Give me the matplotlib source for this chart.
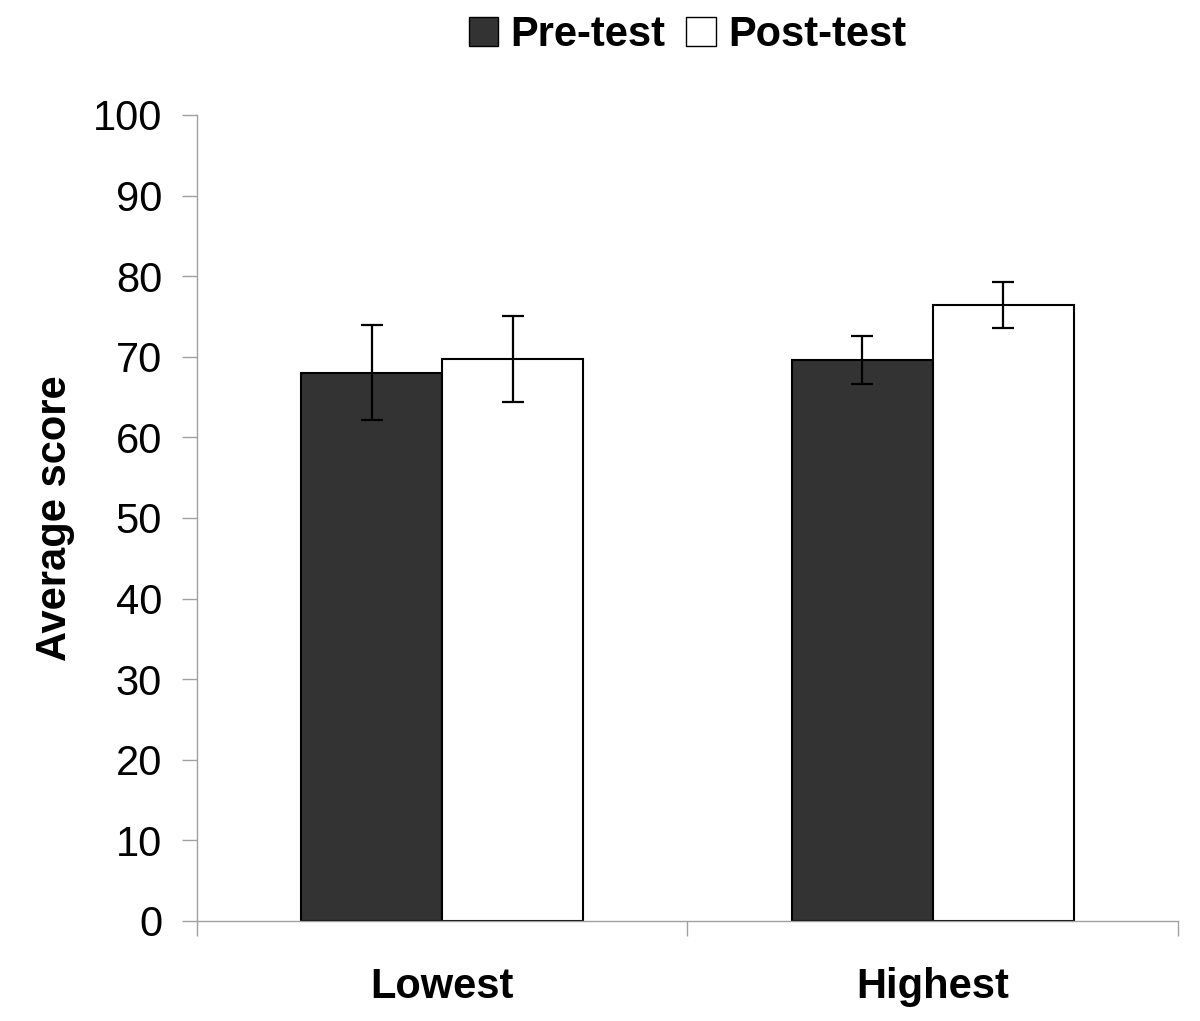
import numpy as np
import matplotlib.pyplot as plt
from matplotlib.patches import Patch

plt.rcParams['font.family'] = ['Liberation Sans', 'DejaVu Sans']

# data
groups = ["Lowest", "Highest"]
pre_test = [68.0, 69.6]
pre_err = [5.9, 3.0]
post_test = [69.7, 76.4]
post_err = [5.35, 2.85]

fig = plt.figure(figsize=(12, 10.21), dpi=100)
ax = fig.add_axes([0.164, 0.098, 0.8177, 0.7894])

x = np.arange(len(groups))
w = 0.2875
ekw = dict(elinewidth=1.6, capsize=8, capthick=1.6, ecolor='black')
ax.bar(x - w / 2, pre_test, w, yerr=pre_err, color='#333333', edgecolor='black',
       linewidth=1.5, error_kw=ekw, label='Pre-test')
ax.bar(x + w / 2, post_test, w, yerr=post_err, color='white', edgecolor='black',
       linewidth=1.5, error_kw=ekw, label='Post-test')

ax.set_xlim(-0.5, 1.5)
ax.set_ylim(0, 100)
ax.set_yticks(np.arange(0, 101, 10))
ax.tick_params(axis='y', labelsize=30, length=11, width=1, color='#a0a0a0', pad=14)
ax.set_xticks([-0.5, 0.5, 1.5])
ax.set_xticklabels([])
ax.tick_params(axis='x', length=11, width=1, color='#a0a0a0')
ax.set_xticks(x, minor=True)
ax.set_xticklabels(groups, minor=True, fontsize=30, fontweight='bold')
ax.tick_params(axis='x', which='minor', length=0, pad=33)

for s in ['top', 'right']:
    ax.spines[s].set_visible(False)
for s in ['left', 'bottom']:
    ax.spines[s].set_color('#a0a0a0')
    ax.spines[s].set_linewidth(1)

ax.set_ylabel('Average score', fontsize=30, fontweight='bold', labelpad=13)

handles = [Patch(facecolor='#333333', edgecolor='black', label='Pre-test'),
           Patch(facecolor='white', edgecolor='black', label='Post-test')]
fig.legend(handles=handles, loc='center', bbox_to_anchor=(0.573, 0.966), ncol=2,
           frameon=False, prop={'size': 30, 'weight': 'bold'},
           handlelength=0.7, handleheight=0.7, handletextpad=0.3, columnspacing=0.5)

fig.savefig('out.png', dpi=100)
